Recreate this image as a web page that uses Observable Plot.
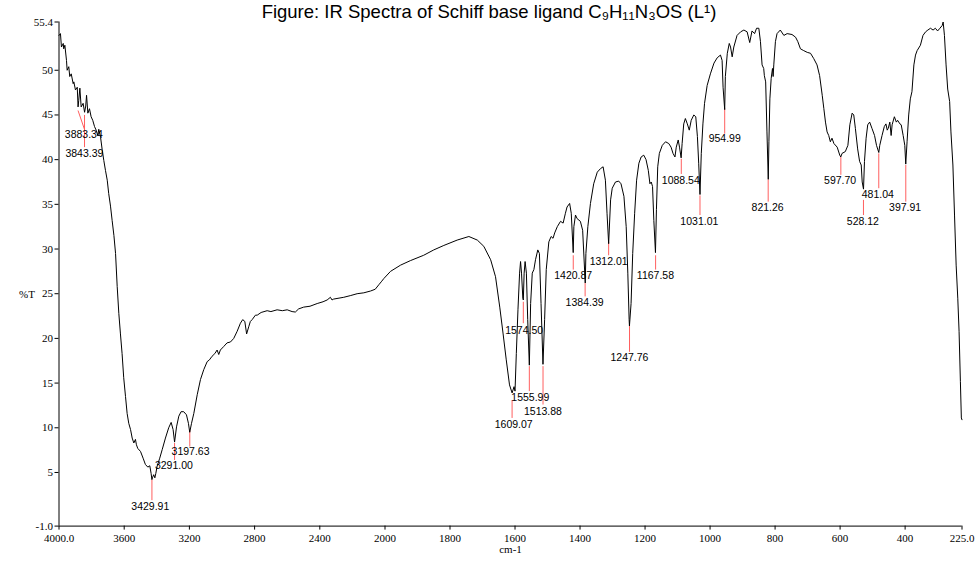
<!DOCTYPE html>
<html><head><meta charset="utf-8">
<script src="https://cdn.jsdelivr.net/npm/d3@7"></script>
<script src="https://cdn.jsdelivr.net/npm/@observablehq/plot@0.6"></script>
<style>html,body{margin:0;padding:0;background:#fff}</style>
</head><body><div id="chart"></div>
<script>
const titleText = "Figure: IR Spectra of Schiff base ligand C\u2089H\u2081\u2081N\u2083OS (L\u00b9)";
const xLabel = "cm-1";
const yLabel = "%T";

const wavenumber = [4000,3991,3985,3974,3971,3964,3954,3950,3940,3934,3925,3913,3909,3899,3888,3883,3879,3872,3864,3852,3843,3836,3831,3823,3813,3803,3793,3782,3772,3762,3756,3745,3735,3725,3715,3704,3695,3684,3674,3663,3653,3643,3633,3623,3613,3603,3592,3582,3572,3561,3551,3541,3531,3525,3517,3500,3484,3470,3455,3443,3435,3430,3427,3419,3412,3406,3398,3382,3367,3347,3327,3312,3300,3291,3279,3265,3251,3235,3218,3206,3198,3187,3173,3152,3132,3112,3091,3077,3061,3044,3030,3020,3010,2989,2969,2948,2928,2907,2887,2873,2860,2849,2836,2826,2815,2795,2784,2760,2723,2700,2662,2630,2600,2570,2550,2530,2499,2460,2416,2380,2355,2335,2325,2315,2253,2210,2171,2130,2089,2060,2038,2020,2007,1983,1952,1922,1881,1850,1819,1778,1742,1716,1696,1675,1660,1647,1637,1627,1617,1609,1603,1600,1596,1591,1586,1583,1580,1576,1574.5,1572,1569,1565,1561,1556,1552,1547,1542,1537,1530,1525,1520,1514,1509,1504,1496,1489,1483,1478,1470,1460,1452,1445,1440,1432,1427,1421,1419,1414,1409,1399,1392,1384,1382,1376,1368,1358,1347,1337,1329,1322,1317,1312,1306,1301,1291,1281,1274,1265,1258,1253,1249,1248,1243,1238,1232,1226,1219,1212,1204,1197,1190,1185,1181,1177,1173,1168,1165,1161,1156,1147,1137,1127,1120,1114,1108,1104,1098,1094,1089,1086,1081,1076,1070,1064,1058,1050,1044,1039,1035,1031,1027,1022,1017,1009,999,988,978,968,963,960,955,953,947,941,937,932,927,917,906,896,886,878,871,863,857,850,845,840,835,833,829,825,821,819,816,812,808,806,804,799,794,784,773,763,748,737,730,722,712,701,691,681,671,663,655,650,645,640,635,630,625,619,609,601,598,594,584,576,570,563,558,553,546,540,535,532,528,525,520,515,509,502,494,488,481,478,471,464,459,455,452,447,443,440,433,427,423,416,412,406,401,398,394,389,384,379,373,368,363,353,345,337,330,322,314,307,300,293,286,283,279,274,269,263,259,253,248,243,238,234,230,227,225];
const transmittance = [53.9,54.1,52.6,53.0,52.4,52.8,51.1,50.0,50.4,49.3,49.6,48.5,48.7,47.8,48.1,45.9,46.6,48.0,45.9,46.3,45.3,46.0,47.2,45.2,45.7,44.8,44.4,43.7,43.3,42.7,43.4,42.5,41.1,39.9,38.8,37.7,36.2,34.8,33.2,31.5,29.5,25.8,22.8,20.5,18.3,15.6,13.5,11.6,10.5,9.8,8.85,8.3,8.7,8.1,7.7,7.35,6.6,5.9,5.6,5.75,4.9,4.2,4.4,4.75,4.4,4.9,5.7,6.6,7.55,8.85,10.0,10.6,9.8,8.4,10.1,11.3,11.8,11.8,11.45,10.5,9.5,10.5,11.6,13.7,15.4,16.5,17.4,17.6,18.0,18.3,18.7,18.2,18.7,19.1,19.5,19.6,20.0,20.8,21.7,22.1,21.9,20.5,21.3,21.9,22.1,22.6,22.6,22.9,23.1,23.0,23.2,23.1,23.2,23.0,22.95,23.3,23.5,23.6,23.9,24.1,24.3,24.6,24.3,24.4,24.6,24.8,25.0,25.1,25.3,25.5,26.0,26.4,26.7,27.5,28.2,28.7,29.3,29.9,30.4,31.0,31.4,31.0,30.3,28.8,26.9,23.5,20.6,17.6,14.8,13.9,14.6,14.1,18.3,23.2,27.3,28.6,27.3,24.5,24.3,27.3,28.6,27.3,22.1,17.0,23.9,27.3,27.7,28.8,29.9,29.5,23.9,17.1,22.1,27.7,30.8,31.4,31.2,31.8,32.5,33.1,32.9,34.0,34.7,35.1,34.0,29.6,32.5,33.8,33.4,33.1,32.1,26.2,29.5,32.5,35.1,37.3,38.6,39.0,39.2,37.7,34.0,30.6,35.5,36.8,37.5,37.6,37.3,35.9,32.5,27.3,22.1,21.4,23.9,29.5,34.0,37.7,39.6,40.3,40.5,40.0,38.8,37.3,37.5,37.0,33.2,29.6,34.4,39.2,40.7,41.6,42.0,41.8,41.4,40.7,40.3,41.4,42.2,41.4,40.2,41.8,44.0,44.6,44.0,43.3,44.4,45.0,44.8,42.6,39.6,36.1,40.7,44.0,46.3,48.3,49.6,50.8,51.4,51.7,51.1,48.1,45.6,49.3,51.9,53.0,52.6,51.5,52.6,53.9,54.3,54.5,54.3,53.1,54.4,54.1,54.7,54.7,53.2,50.6,50.2,49.4,48.7,43.1,37.8,42.0,46.8,49.1,50.2,49.3,50.6,53.2,54.1,54.5,53.9,54.1,54.0,53.7,53.2,52.4,52.2,52.0,51.9,51.3,50.6,49.4,47.2,45.7,44.2,43.1,42.7,42.0,42.4,41.8,41.4,40.5,40.3,40.7,40.9,41.6,43.9,45.2,45.0,43.5,41.2,39.8,39.4,37.5,36.7,39.8,42.4,43.9,44.2,43.5,42.7,41.6,40.8,41.6,42.7,43.7,44.0,43.3,43.5,44.2,42.7,43.9,44.8,44.2,44.4,44.0,43.9,42.7,41.6,39.5,42.0,45.0,46.8,47.6,50.6,51.7,52.2,52.8,53.9,54.3,54.5,54.7,54.5,54.7,54.4,54.7,55.0,55.4,53.9,50.6,47.9,46.5,43.1,39.4,33.8,28.2,24.5,20.8,15.2,11.1,10.9];

// Peak annotations (all in data units: cm-1 and %T)
const peakLabels = ["3883.34","3843.39","3429.91","3291.00","3197.63","1609.07","1574.50","1555.99","1513.88","1420.87","1384.39","1312.01","1247.76","1167.58","1088.54","1031.01","954.99","821.26","597.70","528.12","481.04","397.91"];
const peakWn =        [3883.34,3843.39,3429.91,3291.00,3197.63,1609.07,1574.50,1555.99,1513.88,1420.87,1384.39,1312.01,1247.76,1167.58,1088.54,1031.01,954.99,821.26,597.70,528.12,481.04,397.91];
const peakLineEndWn = [3842,3843.39,3429.91,3291.00,3197.63,1609.07,1574.50,1555.99,1513.88,1420.87,1384.39,1312.01,1247.76,1167.58,1088.54,1031.01,954.99,821.26,597.70,528.12,481.04,397.91];
const peakTop =       [45.5,45.0,4.2,8.3,9.8,13.1,24.1,16.9,16.9,29.3,26.2,30.8,21.5,29.3,40.1,36.0,45.7,37.8,40.3,35.5,40.7,39.4];
const peakBottom =    [43.3,41.4,1.9,6.4,7.9,11.1,21.7,14.1,12.6,27.7,24.7,29.3,18.5,27.7,38.4,33.8,42.9,35.3,38.3,33.8,36.8,35.3];
const labelWn =       [3848,3844,3440,3295,3193,1604,1572,1553,1514,1421,1386,1312,1248,1168,1090,1033,955,823,600,530,484,400];
const labelT =        [42.8,40.7,1.2,5.75,7.3,10.3,20.9,13.4,11.8,27.0,24.0,28.6,17.9,27.0,37.6,33.1,42.3,34.6,37.6,33.05,36.1,34.6];

const xTicks = [4000,3600,3200,2800,2400,2000,1800,1600,1400,1200,1000,800,600,400,225];
const yTicks = [-1,5,10,15,20,25,30,35,40,45,50,55.4];

const spectrum = wavenumber.map((w, i) => ({w, t: transmittance[i]}));
const peaks = peakLabels.map((label, i) => ({
  label, w: peakWn[i], w2: peakLineEndWn[i], top: peakTop[i], bottom: peakBottom[i], lw: labelWn[i], lt: labelT[i]
}));

const fmtX = d => (d === 4000 || d === 225) ? d.toFixed(1) : String(d);
const fmtY = d => (d === -1 || d === 55.4) ? d.toFixed(1) : String(d);
const serif = "'Liberation Serif', 'Times New Roman', serif";
const sans = "'Liberation Sans', Arial, sans-serif";

const chart = Plot.plot({
  width: 977,
  height: 561,
  marginLeft: 58.5,
  marginRight: 15.5,
  marginTop: 21.5,
  marginBottom: 35.4,
  style: {background: "#fff", color: "#000", fontFamily: serif, fontSize: "11px", overflow: "visible"},
  x: {type: "linear", domain: [4000, 2000, 225], range: [58.5, 384.5, 961.5]},
  y: {type: "linear", domain: [-1, 55.4]},
  marks: [
    Plot.ruleY([-1], {stroke: "#000"}),
    Plot.ruleX([4000], {stroke: "#000"}),
    Plot.axisX(xTicks, {tickSize: 4, tickPadding: 4, tickFormat: fmtX, label: null, fontSize: 11, fontFamily: serif}),
    Plot.axisY(yTicks, {tickSize: 4, tickPadding: 2, tickFormat: fmtY, label: null, fontSize: 11, fontFamily: serif}),
    Plot.link(peaks, {x1: "w", y1: "top", x2: "w2", y2: "bottom", stroke: "#ff5f5f", strokeWidth: 1}),
    Plot.line(spectrum, {x: "w", y: "t", stroke: "#000", strokeWidth: 1}),
    Plot.text(peaks, {x: "lw", y: "lt", text: "label", fontFamily: sans, fontSize: 10.5, fill: "#000"}),
    Plot.text([yLabel], {frameAnchor: "left", dx: -40, dy: 20, fontSize: 11, fontFamily: serif}),
    Plot.text([xLabel], {frameAnchor: "bottom", dy: 27, fontSize: 11, fontFamily: serif}),
    Plot.text([titleText], {frameAnchor: "top", dx: -21.5, dy: -4, fontFamily: sans, fontSize: 18.5, lineAnchor: "bottom"})
  ]
});
document.getElementById("chart").append(chart);
</script></body></html>
